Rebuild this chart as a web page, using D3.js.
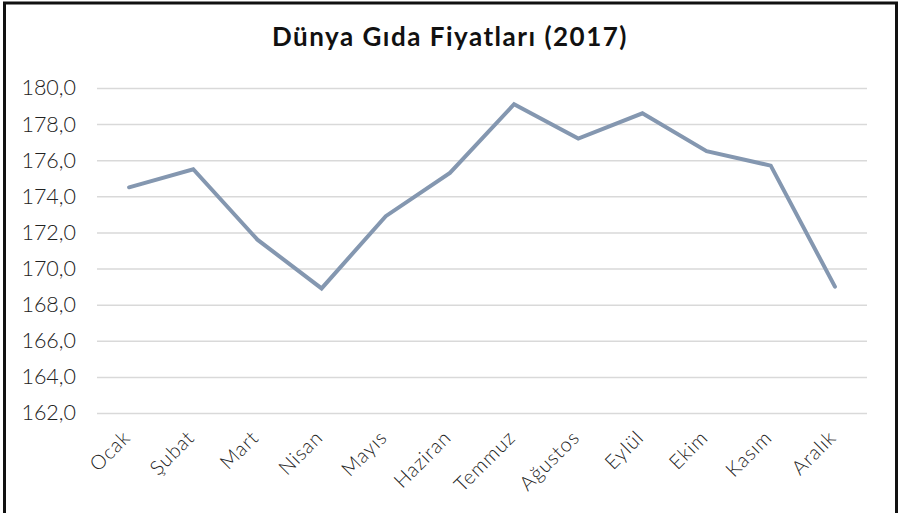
<!DOCTYPE html>
<html>
<head>
<meta charset="utf-8">
<script src="https://cdn.jsdelivr.net/npm/d3@7"></script>
<style>
  html, body { margin: 0; padding: 0; background: #fff; }
  svg { display: block; }
</style>
</head>
<body>
<svg id="chart" width="899" height="513"></svg>
<script>
const title = "Dünya Gıda Fiyatları (2017)";
const months = ["Ocak", "Şubat", "Mart", "Nisan", "Mayıs", "Haziran", "Temmuz", "Ağustos", "Eylül", "Ekim", "Kasım", "Aralık"];
const values = [174.5, 175.5, 171.6, 168.9, 172.9, 175.3, 179.1, 177.2, 178.6, 176.5, 175.7, 169.0];
const yTicks = [162, 164, 166, 168, 170, 172, 174, 176, 178, 180];

const svg = d3.select("#chart");
const plotL = 97, plotR = 867, plotT = 88, plotB = 413;
const font = "Lato, 'Noto Sans', sans-serif";

svg.append("rect").attr("x", 4.5).attr("y", 3).attr("width", 892).attr("height", 520)
  .attr("fill", "#fff").attr("stroke", "#111").attr("stroke-width", 3);

svg.append("text").attr("x", 450).attr("y", 45.5).attr("text-anchor", "middle")
  .attr("font-family", font).attr("font-weight", "bold")
  .attr("font-size", 26).attr("letter-spacing", 1.5).attr("fill", "#111").text(title);

const x = d3.scalePoint().domain(months).range([plotL, plotR]).padding(0.5);
const y = d3.scaleLinear().domain([162, 180]).range([plotB, plotT]);

const yAxis = d3.axisLeft(y).tickValues(yTicks).tickSize(-(plotR - plotL)).tickPadding(21)
  .tickFormat(d => d3.format(".1f")(d).replace(".", ","));
const gy = svg.append("g").attr("transform", `translate(${plotL},0)`).call(yAxis);
gy.select(".domain").remove();
gy.selectAll(".tick line").attr("stroke", "#d9d9d9").attr("stroke-width", 1.5);
gy.selectAll(".tick text").attr("font-family", font).attr("font-weight", 300)
  .attr("font-size", 21.5).attr("fill", "#222");

const xAxis = d3.axisBottom(x).tickSize(0).tickPadding(0);
const gx = svg.append("g").attr("transform", `translate(0,${plotB})`).call(xAxis);
gx.select(".domain").remove();
gx.selectAll(".tick text")
  .attr("font-family", font).attr("font-weight", 300)
  .attr("font-size", 20).attr("letter-spacing", 0.8).attr("fill", "#222")
  .attr("text-anchor", "end").attr("dy", 0)
  .attr("transform", "translate(2,26) rotate(-45)");

const line = d3.line().x((d, i) => x(months[i])).y(d => y(d));
svg.append("path").datum(values).attr("d", line)
  .attr("fill", "none").attr("stroke", "#8497b0").attr("stroke-width", 4)
  .attr("stroke-linejoin", "miter").attr("stroke-linecap", "round");
</script>
</body>
</html>
